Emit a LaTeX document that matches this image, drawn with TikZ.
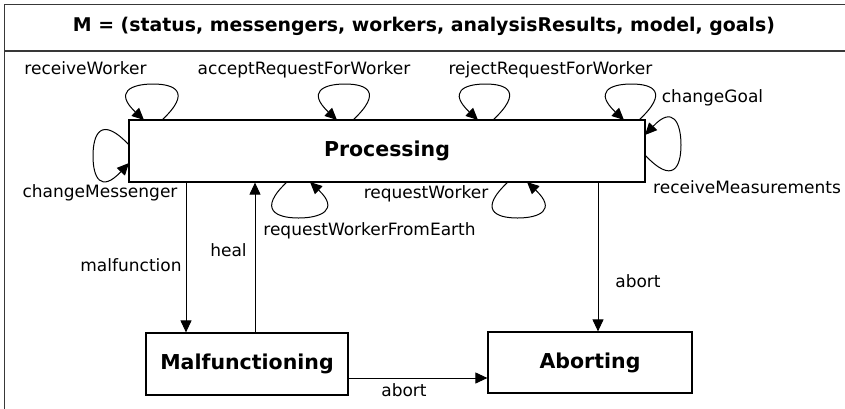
\documentclass[tikz,border=0pt]{standalone}
\usepackage{fontspec}
\setmainfont{DejaVu Sans}
\usetikzlibrary{arrows.meta}

\tikzset{
  statebox/.style={draw=black, line width=1.2pt, fill=white, inner sep=0pt,
    font=\fontsize{20.5}{24}\selectfont\bfseries},
  lbl/.style={anchor=base, inner sep=0pt, font=\fontsize{17}{20}\selectfont},
  arr/.style={line width=1pt, -{Triangle[length=12pt,width=11pt]}},
  frameline/.style={line width=1.8pt, draw=black!78},
}

\begin{document}
\begin{tikzpicture}[x=1pt, y=-1pt]
\useasboundingbox (0,0) rectangle (845,408);
\clip (0,0) rectangle (845,408);

% outer frame with the title compartment
\draw[frameline] (4.5,412) -- (4.5,4.5) -- (850,4.5);
\draw[frameline] (4.5,51) -- (850,51);
\node[anchor=base, inner sep=0pt, font=\fontsize{18.9}{22}\selectfont\bfseries] (title) at (424,31)
  {M = (status, messengers, workers, analysisResults, model, goals)};

% states
\node[statebox, minimum width=516pt, minimum height=62pt] (proc) at (387,151) {Processing\hspace{27pt}};
\node[statebox, minimum width=202pt, minimum height=62pt] (malf) at (247,364) {Malfunctioning};
\node[statebox, minimum width=204pt, minimum height=61pt] (abrt) at (590,362.5) {Aborting};

% transitions between states
\draw[arr] ([xshift=-201pt]proc.south) -- ([xshift=-61pt]malf.north);
\draw[arr] ([xshift=8pt]malf.north) -- ([xshift=-132pt]proc.south);
\draw[arr] ([xshift=211pt]proc.south) -- ([xshift=8pt]abrt.north);
\draw[arr] ([yshift=-14pt]malf.east) -- ([yshift=-15.5pt]abrt.west);

\node[lbl] (lmal) at (131,271.5) {malfunction};
\node[lbl] (lheal) at (228.5,256) {heal};
\node[lbl] (lab1) at (638,287.5) {abort};
\node[lbl] (lab2) at (404,396.5) {abort};

% end points of the self transitions on the border of Processing
\coordinate (rwS) at (162,120);   \coordinate (rwT) at (144,120);
\coordinate (arS) at (353,120);   \coordinate (arT) at (337,120);
\coordinate (rjS) at (493,120);   \coordinate (rjT) at (478,120);
\coordinate (cgS) at (639,120);   \coordinate (cgT) at (624,120);
\coordinate (rmS) at (645,155);   \coordinate (rmT) at (645,135);
\coordinate (cmS) at (129,145);   \coordinate (cmT) at (129,163);
\coordinate (reS) at (287,182);   \coordinate (reT) at (310,182);
\coordinate (rqS) at (508,182);   \coordinate (rqT) at (527,182);

% self transitions
\draw[arr] (rwS) .. controls (192,92) and (175,84) .. (153,84)
                 .. controls (131,84) and (114,92) .. (rwT);
\draw[arr] (arS) .. controls (383,92) and (367,84) .. (345,84)
                 .. controls (323,84) and (307,92) .. (arT);
\draw[arr] (rjS) .. controls (523,92) and (507.5,84) .. (485.5,84)
                 .. controls (463.5,84) and (448,92) .. (rjT);
\draw[arr] (cgS) .. controls (669,92) and (653.5,84) .. (631.5,84)
                 .. controls (609.5,84) and (594,92) .. (cgT);
\draw[arr] (rmS) .. controls (673,185) and (681,167) .. (681,145)
                 .. controls (681,123) and (673,105) .. (rmT);
\draw[arr] (cmS) .. controls (101,115) and (93,134) .. (93,156)
                 .. controls (93,178) and (101,193) .. (cmT);
\draw[arr] (reS) .. controls (257,210) and (276.5,218) .. (298.5,218)
                 .. controls (320.5,218) and (340,210) .. (reT);
\draw[arr] (rqS) .. controls (478,210) and (495.5,218) .. (517.5,218)
                 .. controls (539.5,218) and (557,210) .. (rqT);

% labels of the self transitions
\node[lbl] (lrw) at (85.5,74) {receiveWorker};
\node[lbl] (lar) at (304,74) {acceptRequestForWorker};
\node[lbl] (lrj) at (550.5,74) {rejectRequestForWorker};
\node[lbl] (lcg) at (712.5,102) {changeGoal};
\node[lbl] (lrm) at (747,193) {receiveMeasurements};
\node[lbl] (lcm) at (100,197) {changeMessenger};
\node[lbl] (lrq) at (426,198) {requestWorker};
\node[lbl] (lre) at (369.5,235) {requestWorkerFromEarth};
\end{tikzpicture}
\end{document}
